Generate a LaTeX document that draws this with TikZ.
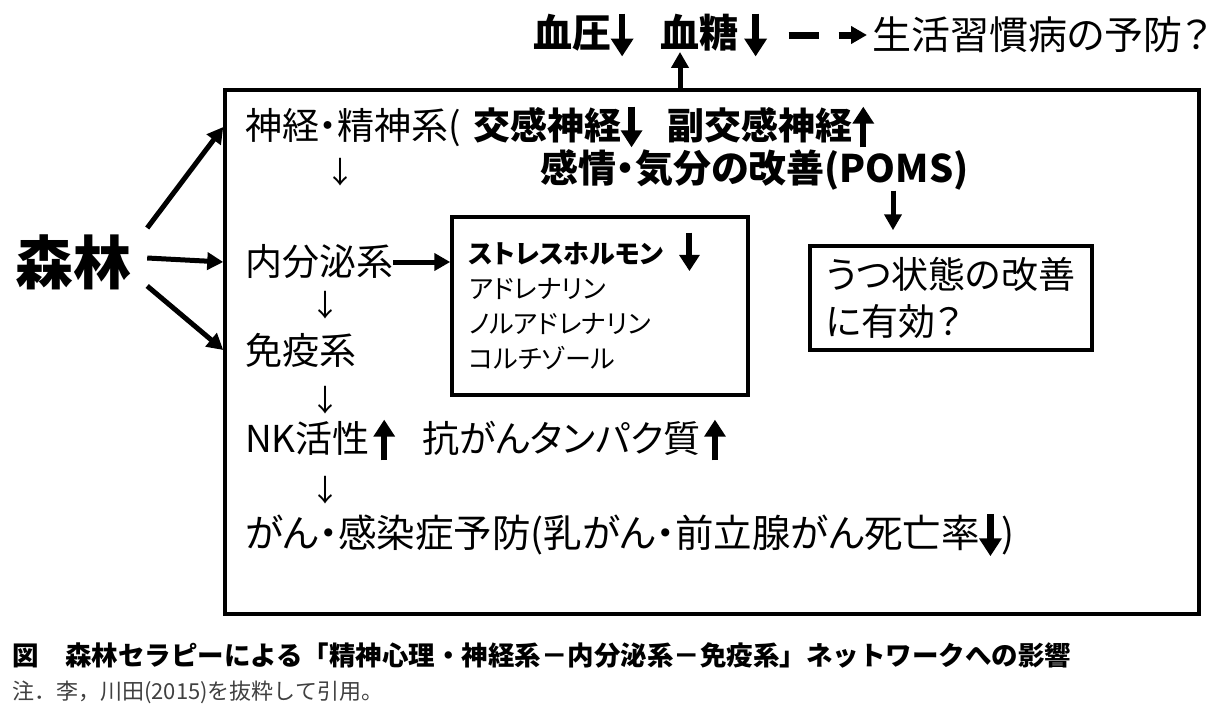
\documentclass[tikz,border=0pt]{standalone}
\usepackage{fontspec}
\setmainfont{Noto Sans CJK JP}[RawFeature=+palt]
\newfontfamily\capfont{Noto Sans CJK JP}
\usetikzlibrary{arrows.meta}
\newlength\arrem
\newcommand{\arrsize}{\setlength\arrem{1em}%
  \edef\arrlw{\the\dimexpr0.17\arrem\relax}%
  \edef\arrw{\the\dimexpr0.56\arrem\relax}%
  \edef\arrl{\the\dimexpr0.46\arrem\relax}}
\newcommand{\dnarr}{\arrsize\tikz[baseline=0pt]\draw[line width=\arrlw,-{Triangle[width=\arrw,length=\arrl]}] (0,0.88\arrem) -- (0,-0.22\arrem);}
\newcommand{\uparr}{\arrsize\tikz[baseline=0pt]\draw[line width=\arrlw,-{Triangle[width=\arrw,length=\arrl]}] (0,-0.22\arrem) -- (0,0.88\arrem);}

\begin{document}
\begin{tikzpicture}[x=1pt,y=-1pt,
  txt/.style={anchor=west,inner sep=0pt,font=\fontsize{37}{42}\selectfont},
  btxt/.style={txt,font=\bfseries\fontsize{38}{42}\selectfont},
  thin/.style={inner sep=0pt,font=\fontsize{30}{34}\selectfont},
  bigarr/.style={line width=5pt,-{Triangle[width=17pt,length=16pt]}},
  frame/.style={draw,line width=3.5pt,inner sep=0pt}]
\useasboundingbox (0,0) rectangle (1224,720);
\node[frame,minimum width=974pt,minimum height=524pt] (main) at (712,352) {};
\node[inner sep=0pt,font=\bfseries\fontsize{58}{60}\selectfont] (mori) at (74,262) {森林};

\node[txt] (shinkei) at (245,127) {神経・精神系(\hspace{12pt}\textbf{交感神経}\dnarr\hspace{26pt}\textbf{副交感神経}\uparr};
\node[btxt] (kanjo) at (540,170) {感情・気分の改善(POMS)};
\node[thin] (d1) at (340,172) {↓};
\node[txt] (naibun) at (245,262) {内分泌系};
\node[thin] (d2) at (325,305) {↓};
\node[txt] (meneki) at (245,350) {免疫系};
\node[thin] (d3) at (325,400) {↓};
\node[txt] (nk) at (245,440) {NK活性\hspace{4pt}\uparr\hspace{28pt}抗がんタンパク質\hspace{4pt}\uparr};
\node[thin] (d4) at (325,490) {↓};
\node[txt,font=\fontsize{38.5}{42}\selectfont] (gan) at (245,535) {がん・感染症予防(乳がん・前立腺がん死亡率\dnarr)};

\node[frame,text width=262pt,inner xsep=17pt,minimum height=178pt,align=left,
  font=\fontsize{26}{35}\selectfont] (hormone) at (600,306)
  {\textbf{ストレスホルモン}\hspace{16pt}\smash{\fontsize{35}{35}\selectfont\dnarr}\\アドレナリン\\ノルアドレナリン\\コルチゾール};
\node[frame,text width=250pt,inner xsep=16pt,minimum height=104pt,align=left,
  font=\fontsize{37}{47}\selectfont] (utsu) at (951,298) {うつ状態の改善\\に有効？};

\node[btxt,font=\bfseries\fontsize{39}{42}\selectfont] (ketsuatsu) at (533,35) {血圧\dnarr};
\node[btxt,font=\bfseries\fontsize{39}{42}\selectfont] (kettou) at (660,35) {血糖\,\dnarr};
\node[txt,font=\fontsize{39}{42}\selectfont] (seikatsu) at (872,35) {生活習慣病の予防？};

\node[anchor=west,inner sep=0pt,font=\capfont\bfseries\fontsize{26.5}{30}\selectfont] (caption) at (12,655)
  {図　森林セラピーによる「精神心理・神経系－内分泌系－免疫系」ネットワークへの影響};
\node[anchor=west,inner sep=0pt,text=black!75,font=\capfont\fontsize{22}{24}\selectfont] (note) at (12,692)
  {注．李，川田(2015)を抜粋して引用。};

\draw[bigarr] ([shift={(15,-34)}]mori.east) -- (main.west |- shinkei);
\draw[bigarr] ([shift={(15,-4)}]mori.east) -- (main.west |- naibun);
\draw[bigarr] ([shift={(15,24)}]mori.east) -- (main.west |- meneki);
\draw[bigarr] (naibun.east) -- (hormone.west |- naibun);
\draw[bigarr] ([xshift=-58pt]utsu.north |- kanjo.south) -- ([xshift=-58pt,yshift=14pt]utsu.north);
\draw[bigarr] ([xshift=20pt]kettou.west |- main.north) -- ([xshift=20pt,yshift=8pt]kettou.south west);
\draw[bigarr,line width=7pt,dash pattern=on 30pt off 20pt] ([xshift=22pt]kettou.east) -- ([xshift=-5pt]seikatsu.west);
\end{tikzpicture}
\end{document}
